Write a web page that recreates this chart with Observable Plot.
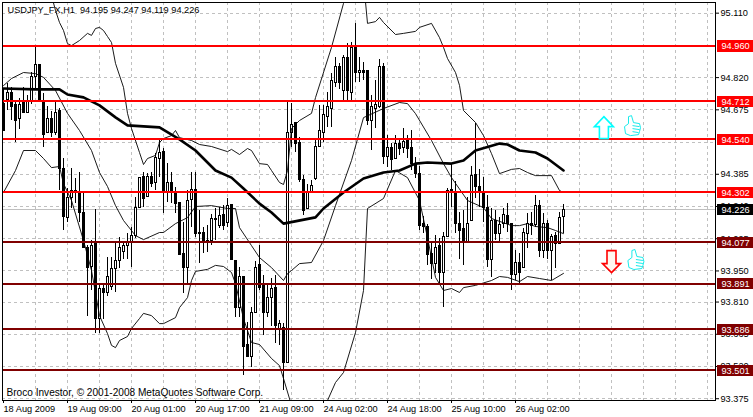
<!DOCTYPE html>
<html><head><meta charset="utf-8">
<style>html,body{margin:0;padding:0;background:#fff}svg{display:block}</style>
<script src="https://cdn.jsdelivr.net/npm/d3@7"></script>
<script src="https://cdn.jsdelivr.net/npm/@observablehq/plot@0.6"></script>
</head><body><script>
const opens=[94.703,94.721,94.753,94.695,94.636,94.717,94.663,94.717,94.821,94.879,
94.708,94.569,94.632,94.573,94.668,94.407,94.190,94.280,94.299,94.303,
94.213,94.055,93.970,94.073,93.736,93.871,93.849,93.880,93.961,93.993,
94.037,94.064,94.082,94.109,94.235,94.375,94.285,94.375,94.348,94.456,
94.487,94.299,94.348,94.303,94.258,94.028,93.965,94.271,94.316,94.118,
94.123,94.087,94.087,94.186,94.154,94.204,94.168,94.249,93.997,93.785,
93.921,93.615,93.561,93.759,93.975,93.893,93.763,93.830,93.875,93.691,
93.695,93.538,94.569,94.614,94.528,94.361,94.231,94.303,94.366,94.510,
94.569,94.645,94.677,94.798,94.870,94.758,94.910,94.753,94.955,94.839,
94.852,94.852,94.627,94.681,94.690,94.866,94.465,94.505,94.456,94.523,
94.505,94.537,94.505,94.429,94.388,94.163,94.150,94.028,93.983,94.064,
93.943,94.105,94.308,94.299,94.163,94.137,94.078,94.177,94.384,94.330,
94.303,94.235,94.001,94.177,94.118,94.163,94.199,94.163,93.934,93.988,
93.965,94.118,94.163,94.159,94.244,94.042,94.163,94.042,94.109,94.073,94.195];
const closes=[94.582,94.753,94.690,94.627,94.695,94.663,94.717,94.825,94.875,94.717,
94.564,94.632,94.569,94.663,94.411,94.195,94.280,94.312,94.308,94.213,
94.055,93.965,94.064,93.736,93.871,93.853,93.921,93.961,93.997,94.055,
94.064,94.082,94.109,94.235,94.370,94.276,94.375,94.343,94.460,94.483,
94.303,94.348,94.299,94.253,94.024,93.965,94.267,94.316,94.118,94.123,
94.078,94.082,94.186,94.181,94.199,94.154,94.244,94.001,93.785,93.921,
93.606,93.565,93.759,93.965,93.875,93.763,93.830,93.871,93.704,93.713,
93.534,94.569,94.605,94.523,94.361,94.222,94.299,94.334,94.510,94.582,
94.650,94.686,94.803,94.870,94.798,94.910,94.758,94.955,94.839,94.852,
94.843,94.627,94.686,94.695,94.870,94.465,94.505,94.451,94.523,94.501,
94.532,94.501,94.433,94.388,94.154,94.150,94.024,93.983,94.055,93.943,
94.105,94.308,94.316,94.163,94.132,94.078,94.163,94.379,94.330,94.303,
94.235,94.001,94.177,94.118,94.159,94.204,94.163,93.934,93.988,93.939,
94.123,94.163,94.154,94.244,94.042,94.163,94.042,94.105,94.073,94.190,94.226];
const highs=[94.771,94.793,94.776,94.717,94.726,94.776,94.740,94.843,94.960,94.879,
94.749,94.690,94.668,94.708,94.681,94.456,94.321,94.411,94.366,94.393,
94.299,94.064,94.087,94.227,93.893,93.885,94.010,94.010,94.073,94.100,
94.082,94.118,94.145,94.280,94.370,94.393,94.388,94.393,94.478,94.537,
94.501,94.433,94.393,94.325,94.258,94.168,94.312,94.393,94.393,94.222,
94.145,94.154,94.204,94.231,94.235,94.244,94.276,94.249,93.997,93.965,
93.921,93.718,93.785,93.993,94.064,93.930,93.893,93.916,93.930,93.727,
93.713,94.708,94.703,94.614,94.550,94.379,94.339,94.357,94.537,94.695,
94.695,94.753,94.839,94.910,94.883,94.919,94.973,94.978,95.063,94.910,
94.888,94.852,94.740,94.807,94.901,94.883,94.559,94.523,94.559,94.546,
94.591,94.559,94.582,94.460,94.420,94.195,94.159,94.082,94.109,94.096,
94.123,94.321,94.433,94.352,94.213,94.222,94.280,94.420,94.614,94.407,
94.370,94.289,94.231,94.222,94.190,94.231,94.253,94.163,94.042,94.028,
94.141,94.208,94.213,94.289,94.267,94.208,94.177,94.114,94.123,94.213,94.247];
const lows=[94.582,94.672,94.627,94.528,94.587,94.663,94.659,94.699,94.771,94.717,
94.505,94.569,94.550,94.559,94.312,94.132,94.168,94.231,94.253,94.168,
94.055,93.745,93.862,93.668,93.668,93.732,93.835,93.862,93.853,93.961,
94.001,94.001,93.965,94.096,94.235,94.235,94.285,94.325,94.312,94.370,
94.209,94.258,94.253,94.209,94.024,93.849,93.893,94.145,94.100,93.983,
94.028,94.033,94.064,94.087,94.141,94.132,94.145,94.001,93.740,93.740,
93.480,93.565,93.516,93.759,93.862,93.659,93.740,93.700,93.624,93.615,
93.412,93.538,94.505,94.483,94.348,94.199,94.231,94.303,94.357,94.505,
94.528,94.595,94.595,94.776,94.767,94.717,94.717,94.717,94.798,94.798,
94.807,94.605,94.492,94.591,94.681,94.429,94.415,94.402,94.456,94.470,
94.478,94.456,94.402,94.366,94.132,94.118,93.975,93.912,93.939,93.893,
93.785,94.105,94.235,94.118,94.001,93.975,94.078,94.177,94.276,94.235,
94.168,93.965,93.921,94.087,94.073,94.141,94.123,93.862,93.907,93.893,
93.965,94.051,94.109,94.145,94.010,94.006,94.001,93.907,93.961,94.069,94.119];

const maBars=[0,8,14,16,20,24,28,31,39,44,48,53,57,60,64,67,70,78,80,85,90,95,99,103,106,112,115,118,124,126,129,133,136,140];
const maValues=[94.771,94.767,94.767,94.744,94.731,94.695,94.641,94.605,94.596,94.542,94.492,94.402,94.370,94.321,94.253,94.213,94.163,94.191,94.231,94.303,94.366,94.393,94.402,94.433,94.438,94.433,94.447,94.492,94.523,94.519,94.492,94.483,94.456,94.402];

const outerBars=[12,13,14,15,16,17,19,21,22,23,24,25,26,27,28,30,31,32,34,35,36,38,39,40,42,43,44,47,49,52,56,57,59,61,62,64,66,67,69,70,71,72,74,77,78,82,85,86,90,91,93,94,95,98,100,103,104,107,109,110,111,113,114,115,118,120,122,124,127,129,131,133,137,139,140];
const outerValues=[95.19,95.122,95.068,95.032,94.973,94.964,94.987,95.019,95.010,95.041,95.046,95.032,95.005,94.978,94.884,94.776,94.659,94.591,94.483,94.429,94.456,94.470,94.528,94.546,94.559,94.582,94.550,94.537,94.519,94.510,94.487,94.497,94.474,94.501,94.492,94.433,94.429,94.402,94.348,94.339,94.402,94.591,94.627,94.659,94.730,94.956,95.154,95.257,95.257,95.064,95.072,95.091,95.068,95.014,95.019,95.028,95.046,95.064,95.000,94.956,94.906,94.843,94.785,94.672,94.618,94.559,94.478,94.388,94.407,94.411,94.393,94.379,94.379,94.312,94.303];

const upperBars=[0,2,5,8,10,13,16,19,22,24,26,28,30,33,35,39,40,43,46,48,52,56,58,59,62,64,67,70,71,72,74,77,80,83,87,90,95,99,101,103,107,110,112,116,120,122,127,129,131,133,136,138,140];
const upperValues=[94.784,94.816,94.843,94.838,94.821,94.762,94.659,94.582,94.492,94.393,94.330,94.244,94.177,94.109,94.091,94.123,94.123,94.163,94.190,94.240,94.244,94.231,94.231,94.145,94.064,94.010,93.965,93.907,93.938,93.952,93.983,93.988,94.087,94.244,94.447,94.640,94.681,94.708,94.703,94.658,94.537,94.433,94.370,94.267,94.235,94.186,94.154,94.154,94.163,94.150,94.145,94.132,94.118];

const lowerBars=[0,3,5,8,10,12,14,15,17,20,22,24,26,27,28,29,31,32,34,35,37,39,40,43,44,46,47,48,51,53,55,57,58,60,62,64,67,69,70,72,73,80,81,83,85,88,90,91,95,98,101,104,106,108,110,112,114,115,118,122,124,126,129,131,134,137,140];
const lowerValues=[94.303,94.402,94.492,94.492,94.456,94.415,94.420,94.343,94.267,94.087,93.952,93.749,93.668,93.615,93.605,93.637,93.655,93.691,93.736,93.759,93.749,93.713,93.713,93.740,93.785,93.830,93.907,93.948,93.957,93.975,93.970,93.943,93.893,93.736,93.628,93.619,93.556,93.524,93.466,93.345,93.232,93.232,93.367,93.448,93.493,93.673,93.862,94.231,94.276,94.402,94.370,94.267,94.100,93.921,93.862,93.871,93.853,93.875,93.885,93.907,93.925,93.921,93.902,93.925,93.916,93.907,93.939];

const resistanceLevels=[94.960,94.712,94.540,94.302];
const supportLevels=[94.077,93.891,93.686,93.501];
const lastPrice=[94.226];
const gridPrices=[95.110,94.965,94.820,94.675,94.530,94.385,94.240,94.095,93.950,93.810,93.665,93.520,93.375];
const priceLabels=[95.110,94.820,94.675,94.385,94.240,94.095,93.950,93.810,93.665,93.520,93.375];
const timeBars=[0,16,32,48,64,80,96,112,128];
const timeLabels=["18 Aug 2009","19 Aug 09:00","20 Aug 01:00","20 Aug 17:00","21 Aug 09:00","24 Aug 02:00","24 Aug 18:00","25 Aug 10:00","26 Aug 02:00"];
const gridBars=d3.range(8,178,8);
const titleText="USDJPY_FX,H1\u00a0\u00a094.195 94.247 94.119 94.226";
const creditText="Broco Investor, © 2001-2008 MetaQuotes Software Corp.";
const fontFamily="'Liberation Sans',Arial,sans-serif";

const bars=opens.map((o,i)=>({i,o,c:closes[i],h:highs[i],l:lows[i]}));
const zip=(xs,ys)=>xs.map((x,k)=>[x,ys[k]]);

const poly=(ctx,pts)=>{pts.forEach((p,k)=>k?ctx.lineTo(p[0],p[1]):ctx.moveTo(p[0],p[1]));ctx.closePath();};
const upArrow={draw(ctx){poly(ctx,[[0,-11],[9.5,-1],[4.5,-1],[4.5,11],[-4.5,11],[-4.5,-1],[-9.5,-1]]);}};
const downArrow={draw(ctx){poly(ctx,[[0,11],[9,2],[4.5,2],[4.5,-11],[-4.5,-11],[-4.5,2],[-9,2]]);}};
const thumb={draw(ctx){
  poly(ctx,[[-8,1],[-4,-2],[-4,-9],[-1,-10],[1,-3],[7,-2],[8,2],[7,6],[6,9],[-2,10],[-7,8]]);
  [[[0,0],[7,1]],[[0,3],[7,4]],[[0,6],[6,7]]].forEach(([a,b])=>{ctx.moveTo(a[0],a[1]);ctx.lineTo(b[0],b[1]);});
}};

const tagH=0.025, tagX1=178.5, tagX2=187.5;
const tags=(values,fill)=>[
  Plot.rect(values,{x1:tagX1,x2:tagX2,y1:d=>d-tagH,y2:d=>d+tagH,fill,shapeRendering:"crispEdges"}),
  Plot.text(values,{x:tagX1,y:d=>d,text:d=>d.toFixed(3),fill:"white",textAnchor:"start",dx:4,fontSize:9.2})
];
const crisp={shapeRendering:"crispEdges"};

const chart=Plot.plot({
  width:753,height:417,marginLeft:2,marginRight:38,marginTop:2,marginBottom:17,
  style:{fontFamily,fontSize:"9.2px",background:"white",color:"black"},
  x:{type:"linear",domain:[-0.25,178],range:[2,715],axis:null},
  y:{type:"linear",domain:[93.367,95.158],range:[400,2],axis:null},
  marks:[
    Plot.ruleX(gridBars,{stroke:"#c0c0c0",strokeDasharray:"3,3",...crisp}),
    Plot.ruleY(gridPrices,{stroke:"#c0c0c0",strokeDasharray:"3,3",...crisp}),
    Plot.ruleY(lastPrice,{stroke:"#c0c0c0",...crisp}),
    Plot.ruleX(bars,{x:"i",y1:"l",y2:"h",stroke:"black",strokeWidth:1,...crisp}),
    Plot.rect(bars.filter(d=>d.c>=d.o),{x1:d=>d.i-0.25,x2:d=>d.i+0.25,y1:"o",y2:"c",fill:"white",stroke:"black",strokeWidth:1,dx:0.5,...crisp}),
    Plot.rect(bars.filter(d=>d.c<d.o),{x1:d=>d.i-0.25,x2:d=>d.i+0.25,y1:"o",y2:"c",fill:"black",stroke:"black",strokeWidth:1,dx:0.5,...crisp}),
    Plot.line(zip(outerBars,outerValues),{stroke:"black",strokeWidth:0.9,clip:true}),
    Plot.line(zip(upperBars,upperValues),{stroke:"black",strokeWidth:0.9,clip:true}),
    Plot.line(zip(lowerBars,lowerValues),{stroke:"black",strokeWidth:0.9,clip:true}),
    Plot.line(zip(maBars,maValues),{stroke:"black",strokeWidth:2.6}),
    Plot.ruleY(resistanceLevels,{stroke:"#ff0000",strokeWidth:2,dy:-0.5,...crisp}),
    Plot.ruleY(supportLevels,{stroke:"#800000",strokeWidth:2,dy:-0.5,...crisp}),
    Plot.dot([[150.1,94.595]],{symbol:upArrow,r:1,fill:"white",stroke:"#00ffff",strokeWidth:1.6}),
    Plot.dot([[152,93.992]],{symbol:downArrow,r:1,fill:"#fff8f0",stroke:"#ff0000",strokeWidth:1.6}),
    Plot.dot([[157.25,94.604],[158.1,94.0015]],{symbol:thumb,r:1,fill:"white",stroke:"#00e8e8",strokeWidth:0.9}),
    Plot.frame({stroke:"black",...crisp}),
    Plot.axisY(priceLabels,{anchor:"right",tickSize:3,tickPadding:2,tickFormat:d3.format(".3f"),label:null,fontSize:9.2,textAnchor:"start"}),
    Plot.axisX(timeBars,{anchor:"bottom",tickSize:3,tickPadding:2,tickFormat:d=>timeLabels[timeBars.indexOf(d)],label:null,fontSize:9.2,textAnchor:"start"}),
    ...tags(resistanceLevels,"#ff0000"),
    ...tags(supportLevels,"#800000"),
    ...tags(lastPrice,"black"),
    Plot.text([titleText],{frameAnchor:"top-left",dx:5,dy:4,fontSize:9.2,fill:"black"}),
    Plot.text([creditText],{frameAnchor:"bottom-left",dx:4,dy:-5,fontSize:10.1,fill:"black"})
  ]
});
document.body.appendChild(chart);
</script></body></html>
